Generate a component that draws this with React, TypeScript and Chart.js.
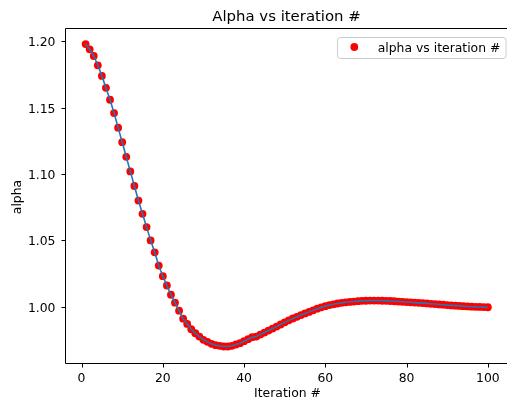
import React, { useEffect, useRef } from "react";
import { Chart, registerables } from "chart.js";

Chart.register(...registerables);

const iterations = [
  1, 2, 3, 4, 5, 6, 7, 8, 9, 10, 11, 12, 13, 14, 15, 16, 17, 18, 19, 20,
  21, 22, 23, 24, 25, 26, 27, 28, 29, 30, 31, 32, 33, 34, 35, 36, 37, 38, 39, 40,
  41, 42, 43, 44, 45, 46, 47, 48, 49, 50, 51, 52, 53, 54, 55, 56, 57, 58, 59, 60,
  61, 62, 63, 64, 65, 66, 67, 68, 69, 70, 71, 72, 73, 74, 75, 76, 77, 78, 79, 80,
  81, 82, 83, 84, 85, 86, 87, 88, 89, 90, 91, 92, 93, 94, 95, 96, 97, 98, 99, 100,
];

const alpha = [
  1.198, 1.194, 1.189, 1.182, 1.174, 1.165, 1.156, 1.146, 1.135, 1.124,
  1.113, 1.102, 1.091, 1.080, 1.070, 1.060, 1.050, 1.041, 1.031, 1.023,
  1.016, 1.009, 1.003, 0.997, 0.991, 0.987, 0.983, 0.980, 0.9775, 0.975,
  0.9735, 0.972, 0.971, 0.9705, 0.970, 0.970, 0.9705, 0.9715, 0.9725, 0.974,
  0.9755, 0.977, 0.9775, 0.979, 0.9805, 0.982, 0.9835, 0.985, 0.9866, 0.9882,
  0.9897, 0.9911, 0.9924, 0.9937, 0.9949, 0.9961, 0.9973, 0.9985, 0.9995, 1.0004,
  1.0012, 1.0018, 1.0024, 1.0029, 1.0033, 1.0036, 1.0039, 1.0042, 1.0044, 1.0045,
  1.0046, 1.0046, 1.0046, 1.0045, 1.0044, 1.0043, 1.0041, 1.0039, 1.0037, 1.0035,
  1.0033, 1.0031, 1.0029, 1.0027, 1.0025, 1.0022, 1.0020, 1.0017, 1.0015, 1.0012,
  1.0010, 1.0008, 1.0006, 1.0004, 1.0002, 1.0000, 0.9999, 0.9998, 0.9997, 0.9996,
];

const xTicks = [0, 20, 40, 60, 80, 100];
const yTicks = [1.0, 1.05, 1.1, 1.15, 1.2];

const titleText = "Alpha vs iteration #";
const xLabel = "Iteration #";
const yLabel = "alpha";
const legendLabel = "alpha vs iteration #";

const FONT = "'DejaVu Sans', sans-serif";

const decorPlugin = {
  id: "decor",
  afterDraw(chart: any) {
    const ctx = chart.ctx as CanvasRenderingContext2D;
    const a = chart.chartArea;
    const xs = chart.scales.x;
    const ys = chart.scales.y;
    ctx.save();
    // spines and tick marks
    ctx.strokeStyle = "#000";
    ctx.lineWidth = 1;
    ctx.beginPath();
    ctx.moveTo(a.left - 0.5, a.bottom + 0.5);
    ctx.lineTo(a.left - 0.5, a.top - 0.5);
    ctx.lineTo(chart.width + 2, a.top - 0.5);
    ctx.moveTo(a.left - 0.5, a.bottom + 0.5);
    ctx.lineTo(chart.width + 2, a.bottom + 0.5);
    xTicks.forEach((v) => {
      const px = Math.round(xs.getPixelForValue(v)) + 0.5;
      ctx.moveTo(px, a.bottom + 1);
      ctx.lineTo(px, a.bottom + 4.5);
    });
    yTicks.forEach((v) => {
      const py = Math.round(ys.getPixelForValue(v)) + 0.5;
      ctx.moveTo(a.left - 1, py);
      ctx.lineTo(a.left - 4.5, py);
    });
    ctx.stroke();

    ctx.fillStyle = "#000";
    ctx.font = `12.4px ${FONT}`;
    ctx.textBaseline = "alphabetic";
    // x tick labels
    ctx.textAlign = "center";
    xTicks.forEach((v) => {
      ctx.fillText(String(v), xs.getPixelForValue(v), a.bottom + 18.5);
    });
    // y tick labels
    ctx.textAlign = "right";
    yTicks.forEach((v) => {
      ctx.fillText(v.toFixed(2), a.left - 10.5, ys.getPixelForValue(v) + 5);
    });

    // title
    ctx.textAlign = "center";
    ctx.font = `14.9px ${FONT}`;
    ctx.fillText(titleText, 286.5, 20.5);

    // x label
    ctx.font = `12.4px ${FONT}`;
    ctx.fillText(xLabel, 287.5, 397);

    // y label
    ctx.save();
    ctx.translate(17.5, 197);
    ctx.rotate(-Math.PI / 2);
    ctx.textBaseline = "middle";
    ctx.fillText(yLabel, 0, 0);
    ctx.restore();

    // legend
    const lx = 337.5, ly = 37.5, lw = 168.5, lh = 21, r = 3;
    ctx.beginPath();
    ctx.moveTo(lx + r, ly);
    ctx.lineTo(lx + lw - r, ly);
    ctx.arcTo(lx + lw, ly, lx + lw, ly + r, r);
    ctx.lineTo(lx + lw, ly + lh - r);
    ctx.arcTo(lx + lw, ly + lh, lx + lw - r, ly + lh, r);
    ctx.lineTo(lx + r, ly + lh);
    ctx.arcTo(lx, ly + lh, lx, ly + lh - r, r);
    ctx.lineTo(lx, ly + r);
    ctx.arcTo(lx, ly, lx + r, ly, r);
    ctx.closePath();
    ctx.fillStyle = "rgba(255,255,255,0.8)";
    ctx.fill();
    ctx.strokeStyle = "#cccccc";
    ctx.stroke();

    ctx.beginPath();
    ctx.arc(354.3, 47, 3.9, 0, Math.PI * 2);
    ctx.fillStyle = "#ff0000";
    ctx.fill();

    ctx.fillStyle = "#000";
    ctx.textAlign = "left";
    ctx.textBaseline = "alphabetic";
    ctx.font = `12.4px ${FONT}`;
    ctx.fillText(legendLabel, 377.7, 51.5);
    ctx.restore();
  },
};

export default function App() {
  const ref = useRef<HTMLCanvasElement | null>(null);
  useEffect(() => {
    if (!ref.current) return;
    const pts = iterations.map((x, i) => ({ x, y: alpha[i] }));
    const chart = new Chart(ref.current, {
      type: "scatter",
      data: {
        datasets: [
          {
            label: "line",
            data: pts,
            showLine: true,
            borderColor: "#1f77b4",
            borderWidth: 1.6,
            pointRadius: 0,
            tension: 0,
            fill: false,
          },
          {
            label: legendLabel,
            data: pts,
            backgroundColor: "#ff0000",
            borderWidth: 0,
            pointRadius: 3.9,
          },
        ],
      },
      options: {
        animation: false,
        responsive: false,
        devicePixelRatio: 1,
        layout: { padding: { top: 29, left: 66, right: 0, bottom: 37 } },
        plugins: {
          legend: { display: false },
          title: { display: false },
          tooltip: { enabled: false },
        },
        scales: {
          x: {
            type: "linear",
            display: false,
            min: -3.83,
            max: 103.73,
          },
          y: {
            type: "linear",
            display: false,
            min: 0.95756,
            max: 1.20935,
          },
        },
      },
      plugins: [decorPlugin],
    });
    return () => chart.destroy();
  }, []);
  return (
    <div style={{ position: "fixed", left: 0, top: 0, width: 507, height: 400, background: "#fff" }}>
      <canvas ref={ref} width={507} height={400} style={{ width: 507, height: 400, display: "block" }} />
    </div>
  );
}
